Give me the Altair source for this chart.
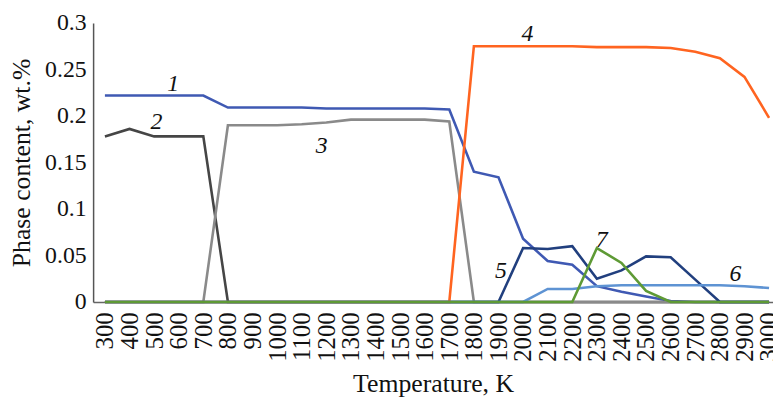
import altair as alt
import pandas as pd

temps = [300, 400, 500, 600, 700, 800, 900, 1000, 1100, 1200, 1300, 1400, 1500, 1600,
         1700, 1800, 1900, 2000, 2100, 2200, 2300, 2400, 2500, 2600, 2700, 2800, 2900, 3000]

s1 = [0.222, 0.222, 0.222, 0.222, 0.222, 0.209, 0.209, 0.209, 0.209, 0.208, 0.208, 0.208, 0.208, 0.208,
      0.207, 0.140, 0.134, 0.068, 0.044, 0.040, 0.017, 0.011, 0.006, 0.001, 0, 0, 0, 0]
s2 = [0.178, 0.186, 0.178, 0.178, 0.178, 0, 0, 0, 0, 0, 0, 0, 0, 0,
      0, 0, 0, 0, 0, 0, 0, 0, 0, 0, 0, 0, 0, 0]
s3 = [0, 0, 0, 0, 0, 0.190, 0.190, 0.190, 0.191, 0.193, 0.196, 0.196, 0.196, 0.196,
      0.194, 0, 0, 0, 0, 0, 0, 0, 0, 0, 0, 0, 0, 0]
s4 = [0, 0, 0, 0, 0, 0, 0, 0, 0, 0, 0, 0, 0, 0,
      0, 0.275, 0.275, 0.275, 0.275, 0.275, 0.274, 0.274, 0.274, 0.273, 0.269, 0.262, 0.242, 0.198]
s5 = [0, 0, 0, 0, 0, 0, 0, 0, 0, 0, 0, 0, 0, 0,
      0, 0, 0, 0.058, 0.057, 0.060, 0.025, 0.034, 0.049, 0.048, 0.024, 0, 0, 0]
s6 = [0, 0, 0, 0, 0, 0, 0, 0, 0, 0, 0, 0, 0, 0,
      0, 0, 0, 0, 0.014, 0.014, 0.017, 0.018, 0.018, 0.018, 0.018, 0.018, 0.017, 0.015]
s7 = [0, 0, 0, 0, 0, 0, 0, 0, 0, 0, 0, 0, 0, 0,
      0, 0, 0, 0, 0, 0, 0.058, 0.042, 0.012, 0, 0, 0, 0, 0]

series_names = ["1", "2", "3", "4", "5", "6", "7"]
series_colors = ["#3F59B3", "#454545", "#8A8A8A", "#FF6420", "#213F7E", "#5E93D3", "#5E9A35"]

# annotation labels (temperature, value)
label_text = ["1", "2", "3", "4", "5", "6", "7"]
label_t = [578, 509, 1181, 2018, 1910, 2863, 2320]
label_v = [0.234, 0.193, 0.168, 0.288, 0.033, 0.030, 0.067]

y_ticks = [0, 0.05, 0.1, 0.15, 0.2, 0.25, 0.3]

rows = []
for name, vals in zip(series_names, [s1, s2, s3, s4, s5, s6, s7]):
    for t, v in zip(temps, vals):
        rows.append({"T": t, "v": v, "series": name})
df = pd.DataFrame(rows)
lab = pd.DataFrame({"T": label_t, "v": label_v, "txt": label_text})

font = "'Liberation Serif', 'Times New Roman', 'DejaVu Serif', serif"

x_scale = alt.Scale(domain=[252, 3016], nice=False, zero=False)
y_scale = alt.Scale(domain=[0, 0.3], nice=False)

x_axis = alt.Axis(values=temps, format="d", labelAngle=270, labelFontSize=25,
                  labelPadding=10, ticks=False, grid=False,
                  domainColor="#666", domainWidth=1.5,
                  title="Temperature, K", titleFontSize=26,
                  titleY=82, titleBaseline="middle", labelOverlap=False,
                  labelFlush=False)
y_axis = alt.Axis(values=y_ticks, format=".2~f", labelFontSize=24,
                  labelPadding=7, ticks=False, grid=False,
                  domainColor="#555", domainWidth=1.5,
                  title="Phase content, wt.%", titleFontSize=26,
                  titleX=-72, titleY=141, titleBaseline="middle", titleAngle=270)

lines = alt.Chart(df).mark_line(strokeWidth=2.6).encode(
    x=alt.X("T:Q", scale=x_scale, axis=x_axis),
    y=alt.Y("v:Q", scale=y_scale, axis=y_axis),
    color=alt.Color("series:N", scale=alt.Scale(domain=series_names, range=series_colors), legend=None),
    detail="series:N",
)

labels = alt.Chart(lab).mark_text(font=font, fontSize=24, fontStyle="italic", color="#111",
                                  baseline="middle", align="center").encode(
    x=alt.X("T:Q", scale=x_scale, axis=x_axis),
    y=alt.Y("v:Q", scale=y_scale, axis=y_axis),
    text="txt:N")

chart = alt.layer(lines, labels).properties(
    width=687, height=282,
    autosize=alt.AutoSizeParams(type="none"),
    padding={"left": 86, "top": 13, "right": 0, "bottom": 100},
).configure(font=font).configure_axis(
    labelFont=font, titleFont=font, labelColor="#111", titleColor="#111",
    titleFontWeight="normal",
).configure_view(stroke=None)

chart.save("out.html", embed_options={"renderer": "svg", "actions": False})
